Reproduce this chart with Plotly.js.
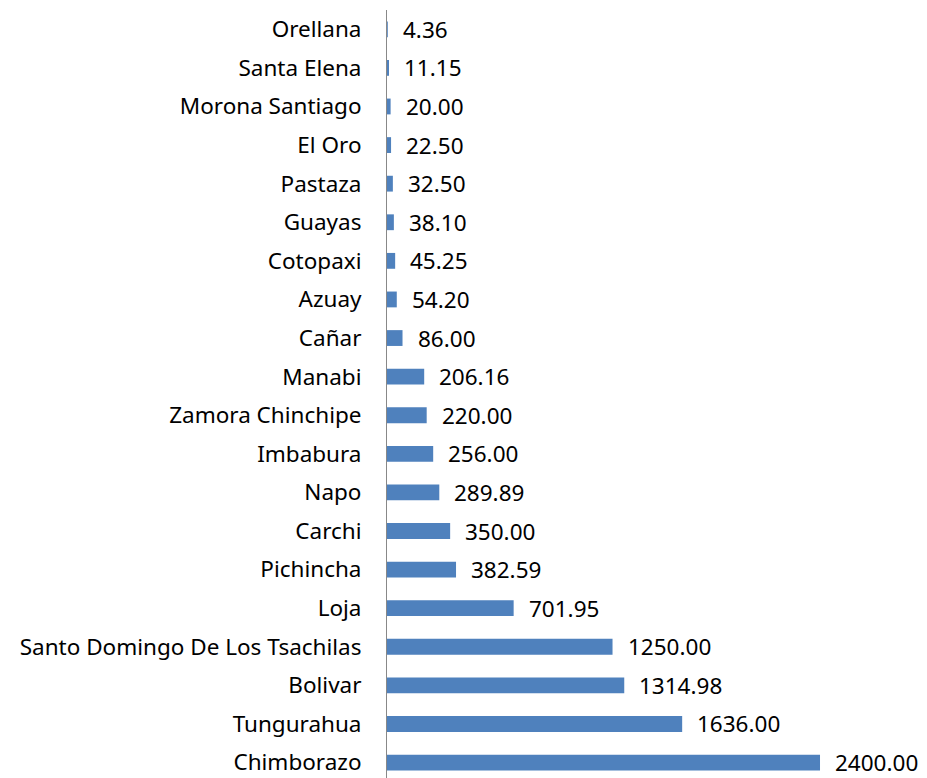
<!DOCTYPE html>
<html>
<head>
<meta charset="utf-8">
<script src="https://cdn.plot.ly/plotly-3.0.1.min.js"></script>
<style>html,body{margin:0;padding:0;background:#fff;}#chart{width:927px;height:778px;}</style>
</head>
<body>
<div id="chart"></div>
<script>
// Bottom to top
const provincias = ["Chimborazo","Tungurahua","Bolivar","Santo Domingo De Los Tsachilas","Loja","Pichincha","Carchi","Napo","Imbabura","Zamora Chinchipe","Manabi","Cañar","Azuay","Cotopaxi","Guayas","Pastaza","El Oro","Morona Santiago","Santa Elena","Orellana"];
const valores = [2400.00,1636.00,1314.98,1250.00,701.95,382.59,350.00,289.89,256.00,220.00,206.16,86.00,54.20,45.25,38.10,32.50,22.50,20.00,11.15,4.36];

const font = "Noto Sans, Open Sans, sans-serif";
const annotations = provincias.map((p, i) => ({
  x: valores[i], y: p, xref: 'x', yref: 'y',
  text: valores[i].toFixed(2), showarrow: false,
  xanchor: 'left', yanchor: 'middle', xshift: 13,
  font: {family: font, size: 22.5, color: '#000'}
}));

Plotly.newPlot('chart', [{
  type: 'bar', orientation: 'h',
  x: valores, y: provincias,
  marker: {color: '#4F81BD'},
  hoverinfo: 'none'
}], {
  width: 927, height: 778,
  margin: {l: 387, r: 0, t: 10, b: 0},
  paper_bgcolor: '#fff', plot_bgcolor: '#fff',
  bargap: 0.59,
  showlegend: false,
  xaxis: {range: [0, 2993], visible: false, fixedrange: true},
  yaxis: {
    type: 'category', range: [-0.4, 19.5],
    showline: true, linecolor: '#888', linewidth: 1,
    showgrid: false, zeroline: false,
    ticks: 'outside', ticklen: 20, tickcolor: 'rgba(0,0,0,0)',
    tickfont: {family: font, size: 22.5, color: '#000'}
  },
  annotations: annotations
}, {staticPlot: true});
</script>
</body>
</html>
